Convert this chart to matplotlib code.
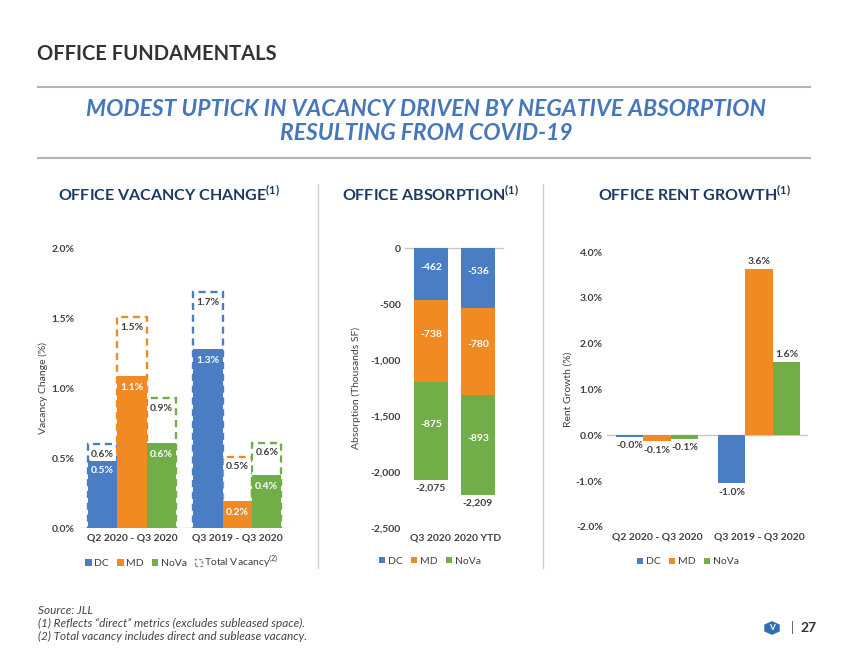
import numpy as np
import matplotlib.pyplot as plt
from matplotlib.patches import Patch, RegularPolygon
from matplotlib.lines import Line2D

W, H = 850, 657

# ---- data ----
series = ['DC', 'MD', 'NoVa']

vac_periods = ['Q2 2020 - Q3 2020', 'Q3 2019 - Q3 2020']
vac_direct = [[0.49, 1.28],   # DC
              [1.09, 0.19],   # MD
              [0.61, 0.38]]   # NoVa
vac_total = [[0.60, 1.69],
             [1.51, 0.51],
             [0.93, 0.61]]

abs_periods = ['Q3 2020', '2020 YTD']
abs_dc = [-462, -536]
abs_md = [-738, -780]
abs_nova = [-875, -893]

rent_periods = ['Q2 2020 - Q3 2020', 'Q3 2019 - Q3 2020']
rent_growth = [[-0.03, -1.04],
               [-0.13, 3.63],
               [-0.07, 1.59]]

# ---- style ----
BLUE = '#4A7DC3'
ORANGE = '#F28A24'
GREEN = '#72AE48'
colors = [BLUE, ORANGE, GREEN]
NAVY = '#1C3A63'
TXT = '#404040'
LINE = '#b4b4b4'

plt.rcParams['font.family'] = ['Lato', 'DejaVu Sans']

fig = plt.figure(figsize=(W / 100, H / 100), dpi=100)


def ax_px(left, top, right, bottom):
    return fig.add_axes([left / W, 1 - bottom / H, (right - left) / W, (bottom - top) / H])


def fy(y):
    return 1 - y / H


def style_axes(ax, pad):
    for sp in ax.spines.values():
        sp.set_visible(False)
    ax.tick_params(axis='y', length=0, pad=pad, labelsize=7.5, labelcolor=TXT)
    ax.tick_params(axis='x', length=0, pad=4, labelsize=7.5, labelcolor=TXT)
    for lab in ax.get_xticklabels() + ax.get_yticklabels():
        lab.set_fontweight('bold')


# ---- header ----
fig.text(37 / W, fy(54), 'OFFICE FUNDAMENTALS', fontsize=14.5,
         fontweight='bold', color='#333333', va='center', ha='left')
fig.add_artist(Line2D([38 / W, 810 / W], [fy(87), fy(87)], color=LINE, lw=1.5))
fig.text(426 / W, fy(110), 'MODEST UPTICK IN VACANCY DRIVEN BY NEGATIVE ABSORPTION',
         fontsize=16.5, fontweight='bold', style='italic',
         color='#4677BD', ha='center', va='center')
fig.text(426 / W, fy(134), 'RESULTING FROM COVID-19',
         fontsize=16.5, fontweight='bold', style='italic',
         color='#4677BD', ha='center', va='center')
fig.add_artist(Line2D([38 / W, 810 / W], [fy(158), fy(158)], color=LINE, lw=1.5))

for cx, t in [(169, 'OFFICE VACANCY CHANGE'), (431, 'OFFICE ABSORPTION'),
              (694, 'OFFICE RENT GROWTH')]:
    fig.text(cx / W, fy(194), t + r'$^{\mathregular{(1)}}$', fontsize=11.5,
             fontweight='bold', color=NAVY, ha='center', va='center')

for x in [318, 543]:
    fig.add_artist(Line2D([x / W, x / W], [fy(184), fy(568)], color='#d0d0d0', lw=1))

# ---- vacancy change ----
ax1 = ax_px(80, 249, 290, 528)
x = np.arange(len(vac_periods))
w = 0.278
for i, s in enumerate(series):
    xs = x + (i - 1) * w
    ax1.bar(xs, vac_total[i], w, facecolor='white', edgecolor=colors[i],
            linestyle=(0, (3, 2)), linewidth=1.7, zorder=2)
    ax1.bar(xs, vac_direct[i], w, color=colors[i], zorder=3, label=s)
    for xi, d, t in zip(xs, vac_direct[i], vac_total[i]):
        ax1.text(xi, t - 0.072, f'{t:.1f}%', ha='center', va='center', fontsize=7.5,
                 fontweight='bold', color=TXT, zorder=5,
                 bbox=dict(facecolor='white', edgecolor='none', pad=1.2))
        ax1.text(xi, d - 0.08, f'{d:.1f}%', ha='center', va='center', fontsize=7.5,
                 fontweight='bold', color='white', zorder=4)
ax1.set_xlim(-0.493, 1.498)
ax1.set_ylim(0, 2.0)
ax1.set_yticks(np.arange(0, 2.01, 0.5))
ax1.set_yticklabels([f'{v:.1f}%' for v in np.arange(0, 2.01, 0.5)])
ax1.set_xticks(x)
ax1.set_xticklabels(vac_periods)
ax1.axhline(0, color='#c8c8c8', lw=1, zorder=1)
style_axes(ax1, 4)
ax1.set_ylabel('Vacancy Change (%)', fontsize=7.5, color=TXT)
ax1.yaxis.set_label_coords((48 - 80) / 210, 0.5)
h1, l1 = ax1.get_legend_handles_labels()
h1.append(Patch(facecolor='white', edgecolor='#888888', linestyle=(0, (2, 1.5)), lw=1))
l1.append(r'Total Vacancy$^{\mathregular{(2)}}$')
ax1.legend(h1, l1, loc='center', bbox_to_anchor=(182 / W, fy(562)),
           bbox_transform=fig.transFigure, ncol=4, frameon=False, fontsize=7.5,
           handlelength=0.6, handleheight=0.6, handletextpad=0.25, columnspacing=0.8,
           labelcolor=TXT)

# ---- absorption ----
ax2 = ax_px(405, 248, 503, 528)
x2 = np.arange(len(abs_periods))
w2 = 0.72
bottom = np.zeros(len(abs_periods))
for vals, c, s in zip([abs_dc, abs_md, abs_nova], colors, series):
    vals = np.array(vals)
    ax2.bar(x2, vals, w2, bottom=bottom, color=c, label=s, zorder=3)
    for xi, b, v in zip(x2, bottom, vals):
        ax2.text(xi, b + v / 2 + 60, f'{v:,}', ha='center', va='center', fontsize=7.5,
                 fontweight='bold', color='white', zorder=4)
    bottom = bottom + vals
for xi, tot in zip(x2, bottom):
    ax2.text(xi, tot - 30, f'{int(tot):,}', ha='center', va='top', fontsize=7.5,
             fontweight='bold', color=TXT)
ax2.set_xlim(-0.55, 1.53)
ax2.set_ylim(-2500, 0)
yt = np.arange(-2500, 1, 500)
ax2.set_yticks(yt)
ax2.set_yticklabels([f'{v:,}' for v in yt])
ax2.set_xticks(x2)
ax2.set_xticklabels(abs_periods)
ax2.axhline(0, color='#c8c8c8', lw=1, zorder=1, clip_on=False)
style_axes(ax2, 3)
ax2.set_ylabel('Absorption (Thousands SF)', fontsize=7.5, color=TXT)
ax2.yaxis.set_label_coords((361 - 405) / 98, 0.5)
ax2.legend(loc='center', bbox_to_anchor=(430 / W, fy(561)),
           bbox_transform=fig.transFigure, ncol=3, frameon=False, fontsize=7.5,
           handlelength=0.6, handleheight=0.6, handletextpad=0.25, columnspacing=0.8,
           labelcolor=TXT)

# ---- rent growth ----
ax3 = ax_px(607, 252, 808, 527)
x3 = np.arange(len(rent_periods))
w3 = 0.27
for i, s in enumerate(series):
    xs = x3 + (i - 1) * w3
    ax3.bar(xs, rent_growth[i], w3, color=colors[i], label=s, zorder=3)
    for xi, v in zip(xs, rent_growth[i]):
        off = 0.17 if v >= 0 else -0.2
        ax3.text(xi, v + off, f'{v:.1f}%', ha='center', va='center', fontsize=7.5,
                 fontweight='bold', color=TXT, zorder=4)
ax3.set_xlim(-0.49, 1.48)
ax3.set_ylim(-2, 4)
yt3 = np.arange(-2, 4.01, 1)
ax3.set_yticks(yt3)
ax3.set_yticklabels([f'{v:.1f}%' for v in yt3])
ax3.set_xticks(x3)
ax3.set_xticklabels(rent_periods)
ax3.axhline(0, color='#c8c8c8', lw=1, zorder=1)
style_axes(ax3, 3)
ax3.set_ylabel('Rent Growth (%)', fontsize=7.5, color=TXT)
ax3.yaxis.set_label_coords((573 - 607) / 201, 0.5)
ax3.legend(loc='center', bbox_to_anchor=(688 / W, fy(562)),
           bbox_transform=fig.transFigure, ncol=3, frameon=False, fontsize=7.5,
           handlelength=0.6, handleheight=0.6, handletextpad=0.25, columnspacing=0.8,
           labelcolor=TXT)

# ---- footer ----
notes = ['Source: JLL',
         '(1) Reflects \u201cdirect\u201d metrics (excludes subleased space).',
         '(2) Total vacancy includes direct and sublease vacancy.']
for k, t in enumerate(notes):
    fig.text(38 / W, fy(611 + 12.5 * k), t, fontsize=8.5, style='italic', color='#444444',
             ha='left', va='center')
fig.add_artist(RegularPolygon((772 / W, fy(628)), numVertices=6, radius=0.0105,
                              orientation=0, facecolor='#2F6DB5', edgecolor='none',
                              transform=fig.transFigure))
fig.text(772 / W, fy(628), 'V', fontsize=6, fontweight='bold', color='white',
         ha='center', va='center')
fig.text(792 / W, fy(628), '|', fontsize=9, color='#555555', ha='center', va='center')
fig.text(800 / W, fy(628), '27', fontsize=10, fontweight='bold', color='#333333',
         ha='left', va='center')

fig.savefig('out.png', dpi=100)
